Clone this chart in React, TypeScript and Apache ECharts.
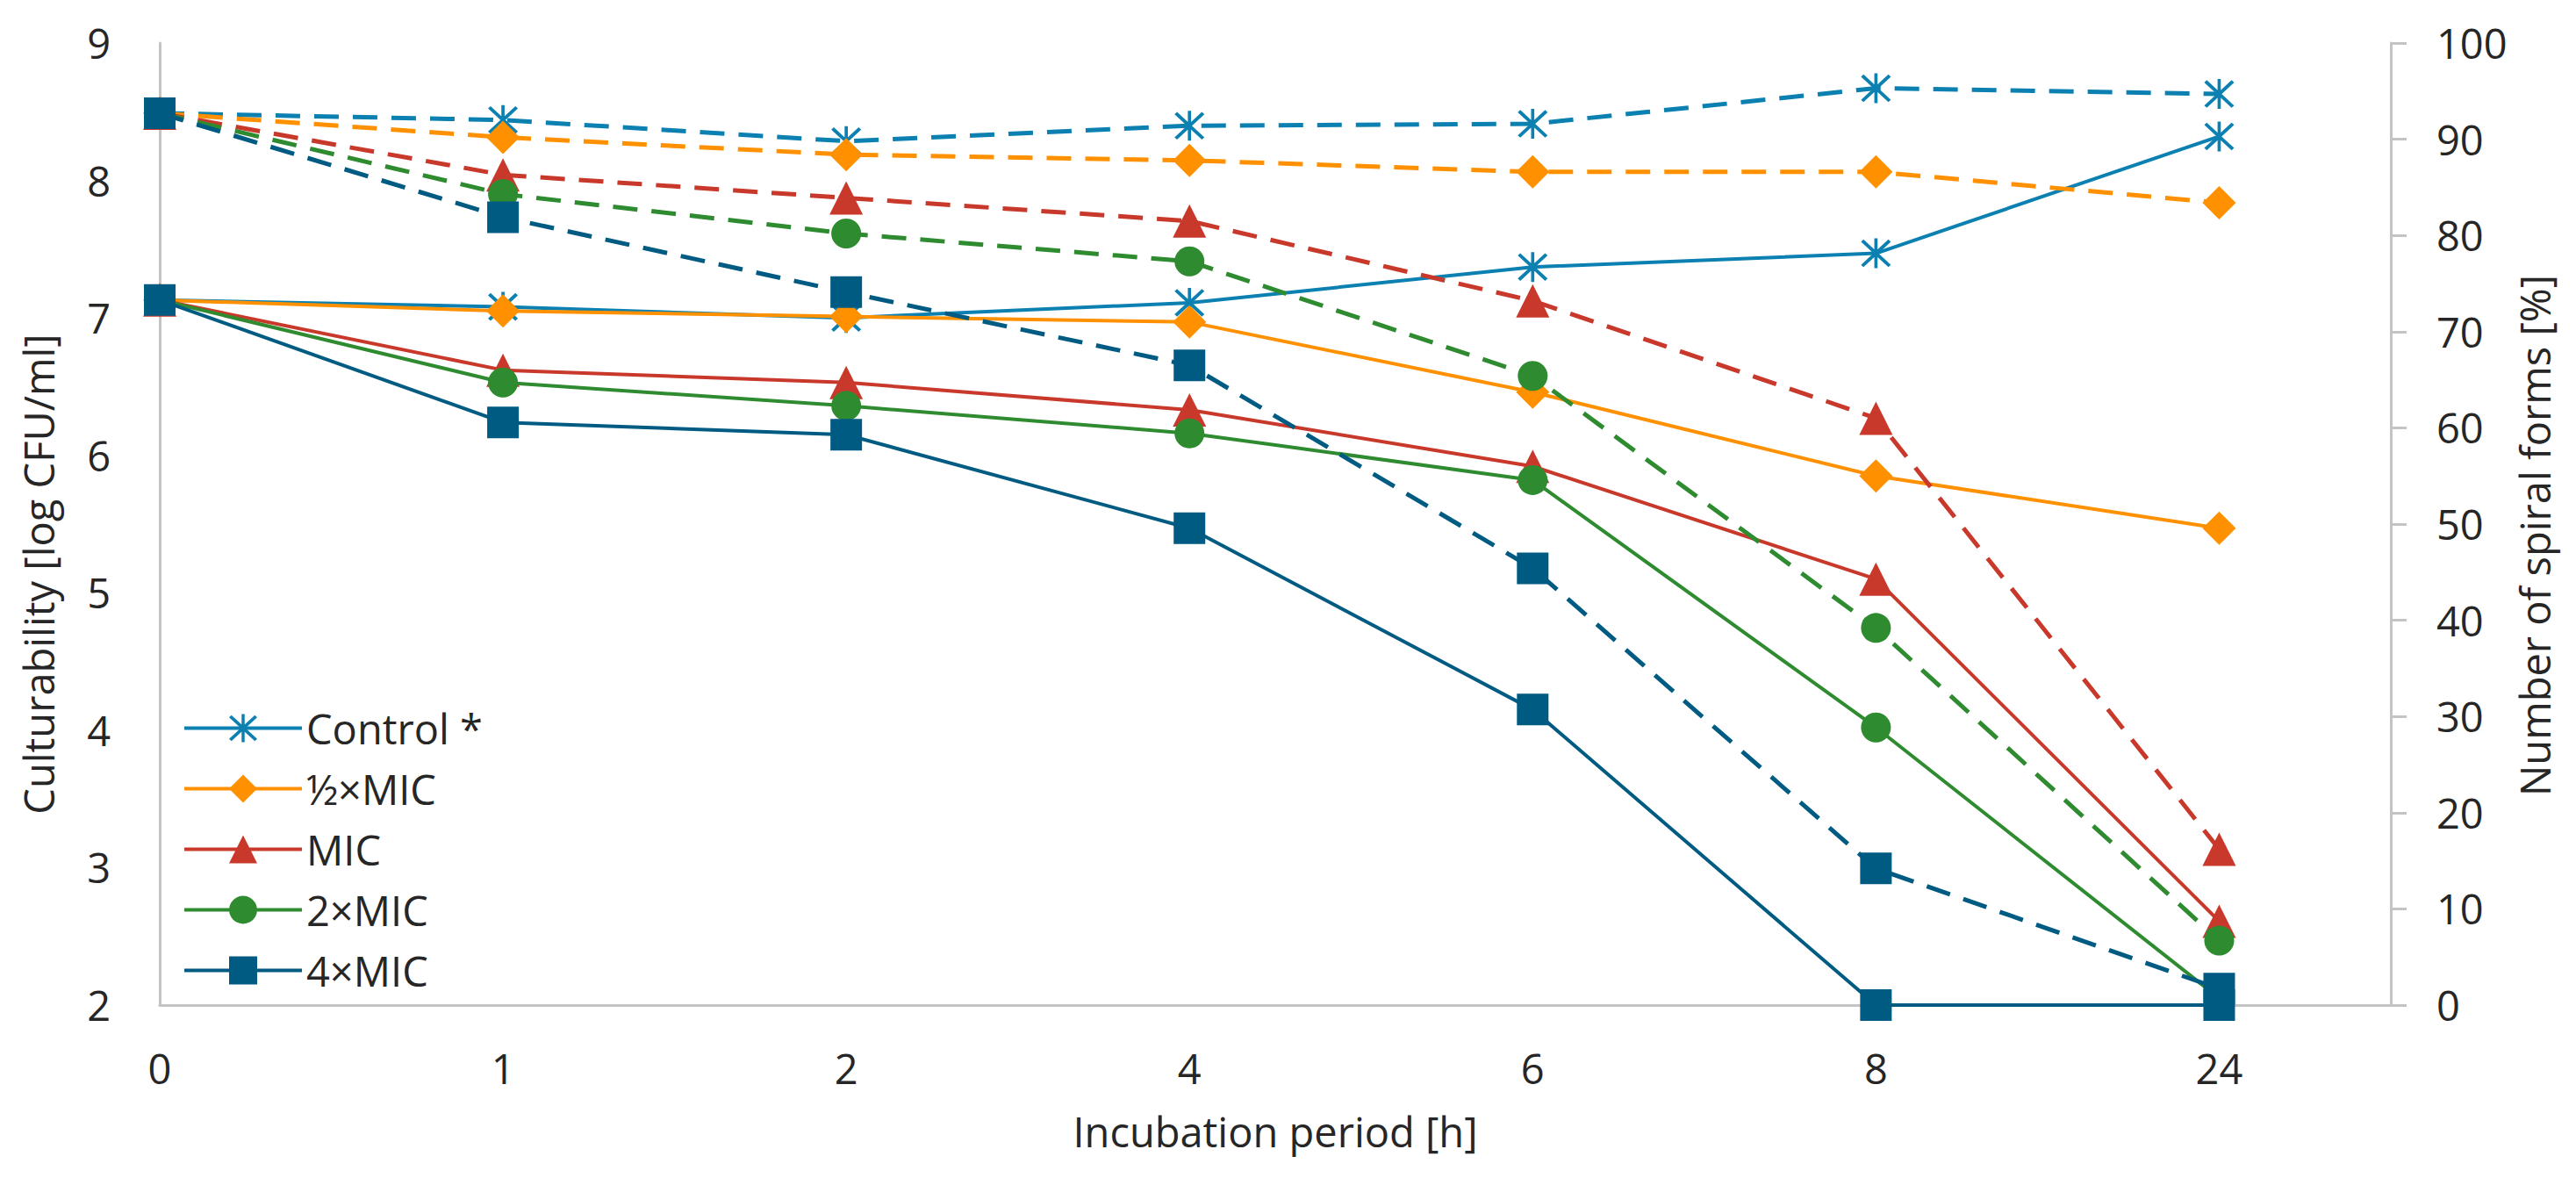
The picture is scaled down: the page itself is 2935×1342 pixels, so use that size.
import React, { useEffect, useRef } from "react";
import * as echarts from "echarts";

// Incubation period categories [h]
const hours = ["0", "1", "2", "4", "6", "8", "24"];

// Legend / treatment names
const treatmentNames = ["Control *", "½×MIC", "MIC", "2×MIC", "4×MIC"];

// Axis titles
const xTitle = "Incubation period [h]";
const leftTitle = "Culturability [log CFU/ml]";
const rightTitle = "Number of spiral forms [%]";

// Culturability [log CFU/ml] (solid lines, left axis)
const cultControl = [7.13, 7.08, 7.0, 7.11, 7.37, 7.47, 8.32];
const cultHalfMIC = [7.13, 7.05, 7.01, 6.97, 6.46, 5.85, 5.47];
const cultMIC = [7.13, 6.62, 6.53, 6.33, 5.92, 5.1, 2.61];
const cult2MIC = [7.13, 6.53, 6.36, 6.16, 5.82, 4.02, 2.05];
const cult4MIC = [7.13, 6.24, 6.15, 5.47, 4.15, 2.0, 2.0];

// Number of spiral forms [%] (dashed lines, right axis)
const spiralControl = [92.7, 92.0, 89.8, 91.4, 91.6, 95.3, 94.7];
const spiralHalfMIC = [92.7, 90.2, 88.4, 87.8, 86.6, 86.6, 83.4];
const spiralMIC = [92.7, 86.3, 83.9, 81.5, 73.2, 61.0, 16.2];
const spiral2MIC = [92.7, 84.3, 80.2, 77.3, 65.4, 39.2, 6.7];
const spiral4MIC = [92.7, 81.9, 74.1, 66.5, 45.4, 14.2, 1.7];

// Axis ticks
const leftTicks = { min: 2, max: 9, interval: 1 };
const rightTicks = { min: 0, max: 100, interval: 10 };

const colors = ["#0B80B1", "#FF9000", "#C9392B", "#2E8B30", "#005B82"];

const asteriskPath =
  "path://M9 0 L11 0 L11 20 L9 20 Z M2.28 0.72 L19.28 17.72 L17.72 19.28 L0.72 2.28 Z M17.72 0.72 L19.28 2.28 L2.28 19.28 L0.72 17.72 Z";

const symbols = [asteriskPath, "diamond", "triangle", "circle", "rect"];
const symbolSizes = [34, 38, 38, 34, 36];

const FONT = "'Open Sans', Lato, sans-serif";
const TEXT = "#262626";
const AXIS = "#C4C4C4";
const FS = 47;

export default function App() {
  const ref = useRef<HTMLDivElement>(null);

  useEffect(() => {
    if (!ref.current) return;
    const chart = echarts.init(ref.current, undefined, { renderer: "svg" });

    const cult = [cultControl, cultHalfMIC, cultMIC, cult2MIC, cult4MIC];
    const spiral = [spiralControl, spiralHalfMIC, spiralMIC, spiral2MIC, spiral4MIC];

    const series: any[] = [];
    cult.forEach((vals, k) => {
      series.push({
        name: treatmentNames[k],
        type: "line",
        xAxisIndex: 0,
        yAxisIndex: 0,
        data: vals.map((v, i) => [i, v]),
        symbol: symbols[k],
        symbolSize: symbolSizes[k],
        lineStyle: { color: colors[k], width: 4 },
        itemStyle: { color: colors[k] },
        z: 2 + k,
      });
    });
    spiral.forEach((vals, k) => {
      series.push({
        name: treatmentNames[k] + " (spiral forms)",
        type: "line",
        xAxisIndex: 0,
        yAxisIndex: 1,
        data: vals.map((v, i) => [i, v]),
        symbol: symbols[k],
        symbolSize: symbolSizes[k],
        lineStyle: { color: colors[k], width: 5, type: [28, 16] },
        itemStyle: { color: colors[k] },
        z: 2 + k,
      });
    });

    const titleStyle = {
      fontSize: FS,
      fill: TEXT,
      fontFamily: FONT,
      align: "center",
      verticalAlign: "middle",
    };

    chart.setOption({
      animation: false,
      backgroundColor: "#ffffff",
      textStyle: { fontFamily: FONT },
      grid: { left: 182, right: 211, top: 49, bottom: 197, containLabel: false },
      legend: {
        data: treatmentNames,
        orient: "vertical",
        left: 208,
        top: 806,
        itemWidth: 134,
        itemHeight: 40,
        itemGap: 22,
        padding: 0,
        lineStyle: { width: 4 },
        textStyle: { fontSize: FS, color: TEXT, fontFamily: FONT },
      },
      graphic: [
        {
          type: "text",
          x: 44,
          y: 654,
          rotation: Math.PI / 2,
          style: { ...titleStyle, text: leftTitle },
        },
        {
          type: "text",
          x: 2888,
          y: 610,
          rotation: Math.PI / 2,
          style: { ...titleStyle, text: rightTitle },
        },
      ],
      xAxis: {
        type: "value",
        min: 0,
        max: 6.5,
        interval: 1,
        name: xTitle,
        nameLocation: "middle",
        nameGap: 120,
        nameTextStyle: { fontSize: FS, color: TEXT, fontFamily: FONT },
        axisLine: { show: true, lineStyle: { color: AXIS, width: 3 } },
        axisTick: { show: false },
        splitLine: { show: false },
        axisLabel: {
          fontSize: FS,
          color: TEXT,
          fontFamily: FONT,
          margin: 48,
          showMaxLabel: false,
          formatter: (v: number) => (Number.isInteger(v) && hours[v] !== undefined ? hours[v] : ""),
        },
      },
      yAxis: [
        {
          type: "value",
          position: "left",
          min: leftTicks.min,
          max: leftTicks.max,
          interval: leftTicks.interval,
          axisLine: { show: true, lineStyle: { color: AXIS, width: 3 } },
          axisTick: { show: false },
          splitLine: { show: false },
          axisLabel: { fontSize: FS, color: TEXT, fontFamily: FONT, margin: 56 },
        },
        {
          type: "value",
          position: "right",
          min: rightTicks.min,
          max: rightTicks.max,
          interval: rightTicks.interval,
          axisLine: { show: true, lineStyle: { color: AXIS, width: 3 } },
          axisTick: { show: true, inside: false, length: 18, lineStyle: { color: AXIS, width: 3 } },
          splitLine: { show: false },
          axisLabel: { fontSize: FS, color: TEXT, fontFamily: FONT, margin: 52 },
        },
      ],
      series,
    });

    return () => chart.dispose();
  }, []);

  return (
    <div
      ref={ref}
      style={{ position: "absolute", left: 0, top: 0, width: 2935, height: 1342, background: "#fff" }}
    />
  );
}
